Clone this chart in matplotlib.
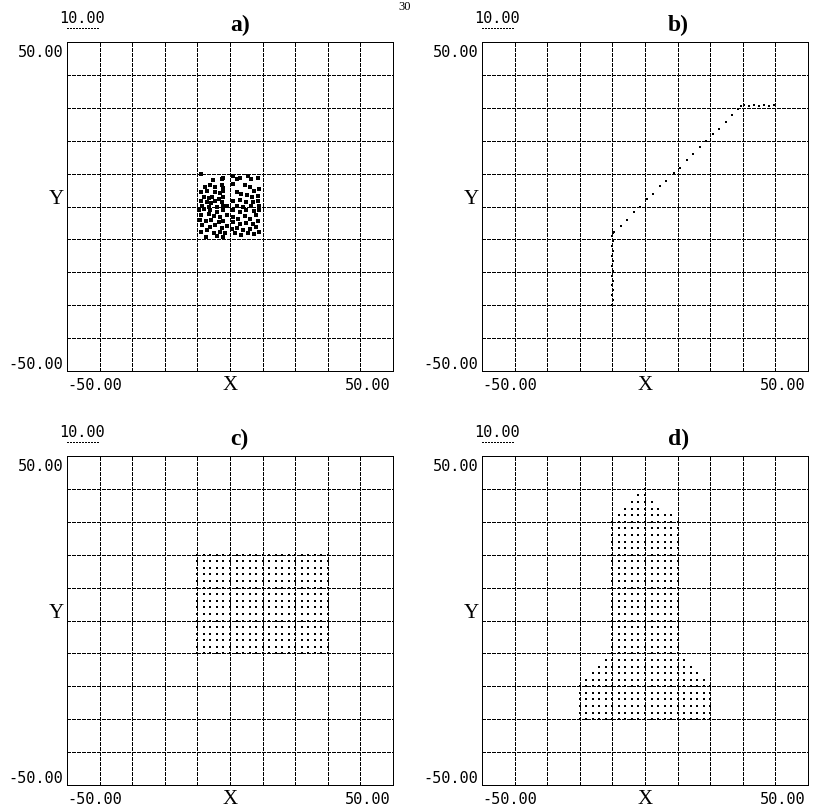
import numpy as np
import matplotlib
matplotlib.use("Agg")
import matplotlib.pyplot as plt

plt.rcParams['lines.scale_dashes'] = False

# a) scattered points inside the central square
scat_x = [-9.0, -5.2, -2.5, -2.0, -7.8, -6.0, -4.5, -2.5, -2.0, -9.0, -7.2, -4.5, -3.2, -2.0,
          -8.0, -6.5, -5.5, -3.5, -2.0, -9.0, -7.2, -5.8, -4.5, -2.5, -8.5, -6.5, -4.0, -2.0, -0.8,
          1.0, 2.0, 3.0, 5.5, 6.5, 8.5, 1.0, 4.5, 6.0, 8.8, 7.5, 2.0, 3.5, 5.2, 6.8, 8.5,
          1.0, 3.0, 5.0, 7.0, 8.5, 2.0, 4.0, 6.5, 9.0,
          -9.5, -8.0, -6.0, -4.0, -2.0, -9.0, -6.5, -5.0, -3.0, -1.0, -9.2, -7.5, -5.8, -3.5, -2.0,
          -8.5, -6.2, -4.5, -2.5, -1.0, -9.0, -7.0, -5.0, -3.0, -1.5, -7.5, -4.0, -2.0,
          1.0, 3.0, 5.0, 7.5, 9.0, 0.8, 2.5, 4.5, 6.0, 8.0, 1.0, 3.0, 5.0, 7.0, 8.5,
          0.5, 2.0, 4.0, 6.0, 8.0, 1.5, 3.5, 5.5, 7.5, 9.0]
scat_y = [10.0, 8.0, 8.3, 8.8, 5.8, 6.6, 6.0, 6.6, 5.6, 4.3, 4.8, 4.3, 4.0, 4.8,
          2.8, 2.6, 2.8, 2.3, 3.0, 1.6, 1.3, 1.0, 1.6, 1.3, 0.3, 0.0, 0.0, 0.3, 0.3,
          9.3, 8.3, 8.8, 9.3, 8.3, 8.6, 6.8, 6.6, 5.8, 5.3, 4.8, 4.3, 3.8, 3.6, 2.8, 3.3,
          1.8, 2.0, 1.3, 1.3, 1.8, 0.3, 0.0, 0.3, 0.3,
          -1.2, -0.7, -1.2, -1.7, -1.0, -2.7, -2.4, -3.0, -3.2, -2.7, -4.2, -4.4, -4.0, -4.7, -4.4,
          -5.7, -6.2, -5.7, -6.4, -6.0, -7.7, -7.2, -8.0, -7.7, -8.2, -9.2, -9.0, -9.4,
          -1.2, -1.7, -1.2, -1.4, -1.0, -3.2, -3.7, -3.0, -3.7, -2.7, -4.7, -5.2, -5.0, -5.2, -4.4,
          -6.7, -6.4, -7.0, -6.7, -6.2, -8.2, -8.7, -8.2, -8.4, -7.7]

# b) trajectory: climb, diagonal run, level flight
path_x = [-10.1, -9.8, -10.2, -9.9, -10.1, -9.8, -10.2, -9.9, -10.1, -9.8, -10.2, -9.9, -10.1, -9.8, -10.0, -9.8,
          -9.6, -7.4, -5.5, -3.3, -1.4, 0.6, 2.4, 4.7, 6.5, 8.8, 10.6, 12.8, 14.6, 16.9, 18.7, 20.8,
          22.7, 24.9, 26.8, 28.6, 29.6,
          30.5, 32.0, 33.5, 35.0, 36.5, 38.0, 39.5]
path_y = [-30.0, -28.5, -27.0, -25.5, -24.0, -22.5, -21.0, -19.5, -18.0, -16.5, -15.0, -13.5, -12.0, -10.5, -9.0, -8.2,
          -7.9, -5.9, -4.1, -1.8, -0.1, 2.2, 3.9, 6.1, 7.8, 10.1, 11.8, 14.0, 15.9, 18.1, 19.8, 21.9,
          23.7, 25.7, 27.7, 29.7, 30.5,
          30.7, 30.6, 30.7, 30.6, 30.7, 30.6, 30.7]

# c) regular lattice on a rectangle
rect_cols = [-10, -8, -6, -4, -2, 0, 2, 4, 6, 8, 10, 12, 14, 16, 18, 20, 22, 24, 26, 28, 30]
rect_rows = [-10, -8, -6, -4, -2, 0, 2, 4, 6, 8, 10, 12, 14, 16, 18, 20]

# d) lattice rows of the tower shape: (y, x_min, x_max)
tower_y = [40, 38, 36, 34, 32, 30, 28, 26, 24, 22, 20, 18, 16, 14, 12, 10, 8, 6, 4, 2, 0,
           -2, -4, -6, -8, -10, -12, -14, -16, -18, -20, -22, -24, -26, -28, -30]
tower_xmin = [0, -2, -4, -6, -8, -10, -10, -10, -10, -10, -10, -10, -10, -10, -10, -10, -10, -10, -10, -10, -10,
              -10, -10, -10, -10, -10, -12, -14, -16, -18, -20, -20, -20, -20, -20, -20]
tower_xmax = [0, 0, 2, 4, 8, 10, 10, 10, 10, 10, 10, 10, 10, 10, 10, 10, 10, 10, 10, 10, 10,
              10, 10, 10, 10, 10, 12, 14, 16, 18, 20, 20, 20, 20, 20, 20]

gx, gy = np.meshgrid(rect_cols, rect_rows)
tx, ty = [], []
for yy, x0, x1 in zip(tower_y, tower_xmin, tower_xmax):
    for xx in range(x0, x1 + 1, 2):
        tx.append(xx)
        ty.append(yy)

ticks = [-50, -40, -30, -20, -10, 0, 10, 20, 30, 40, 50]
dots = (0, (2.2, 0.8))
numfont = dict(family='DejaVu Sans Mono', fontsize=11)
letfont = dict(family='Liberation Serif', fontsize=15)

fig = plt.figure(figsize=(8.16, 8.12), dpi=100)
W, H = 816, 812
boxes = {'a)': (67, 43), 'b)': (482, 43), 'c)': (67, 457), 'd)': (482, 457)}
title_x = {'a)': 0.50, 'b)': 0.57, 'c)': 0.50, 'd)': 0.57}
axes = {}
for name, (left, top) in boxes.items():
    ax = fig.add_axes([left / W, (H - top - 329) / H, 326 / W, 329 / H])
    ax.set_xlim(-50, 50)
    ax.set_ylim(-50, 50)
    ax.set_xticks(ticks)
    ax.set_yticks(ticks)
    ax.tick_params(length=0, labelbottom=False, labelleft=False)
    ax.grid(True, color='black', linewidth=1.0, linestyle=dots, antialiased=False)
    for sp in ax.spines.values():
        sp.set_linestyle(dots)
        sp.set_linewidth(1.0)
        sp.set_antialiased(False)
    ax.set_axisbelow(True)
    ax.text(-0.012, 0.971, '50.00', transform=ax.transAxes, ha='right', va='center', **numfont)
    ax.text(-0.012, 0.024, '-50.00', transform=ax.transAxes, ha='right', va='center', **numfont)
    ax.text(0.0, -0.040, '-50.00', transform=ax.transAxes, ha='left', va='center', **numfont)
    ax.text(0.991, -0.040, '50.00', transform=ax.transAxes, ha='right', va='center', **numfont)
    ax.text(0.5, -0.040, 'X', transform=ax.transAxes, ha='center', va='center', **letfont)
    ax.text(-0.009, 0.523, 'Y', transform=ax.transAxes, ha='right', va='center', **letfont)
    # 10-unit scale bar above the plot
    ax.text(0.046, 1.073, '10.00', transform=ax.transAxes, ha='center', va='center', **numfont)
    ax.plot([-50, -40], [54.3, 54.3], color='black', linewidth=1.0, linestyle=(0, (1.4, 0.8)),
            clip_on=False, antialiased=False)
    ax.text(title_x[name], 1.036, name, transform=ax.transAxes, ha='left', va='baseline',
            family='Liberation Serif', fontweight='bold', fontsize=17)
    axes[name] = ax

axes['a)'].plot(scat_x, scat_y, 's', color='black', markersize=2.4, markeredgewidth=0, antialiased=False)
axes['b)'].plot(path_x, path_y, 's', color='black', markersize=2.15, markeredgewidth=0, antialiased=False)
axes['c)'].plot(gx.ravel(), gy.ravel(), 's', color='black', markersize=2.15, markeredgewidth=0, antialiased=False)
axes['d)'].plot(tx, ty, 's', color='black', markersize=2.15, markeredgewidth=0, antialiased=False)

# page number at the top
fig.text(405 / W, 0.999, '30', ha='center', va='top', family='Liberation Serif', fontsize=9)

fig.savefig('out.png', dpi=100)
